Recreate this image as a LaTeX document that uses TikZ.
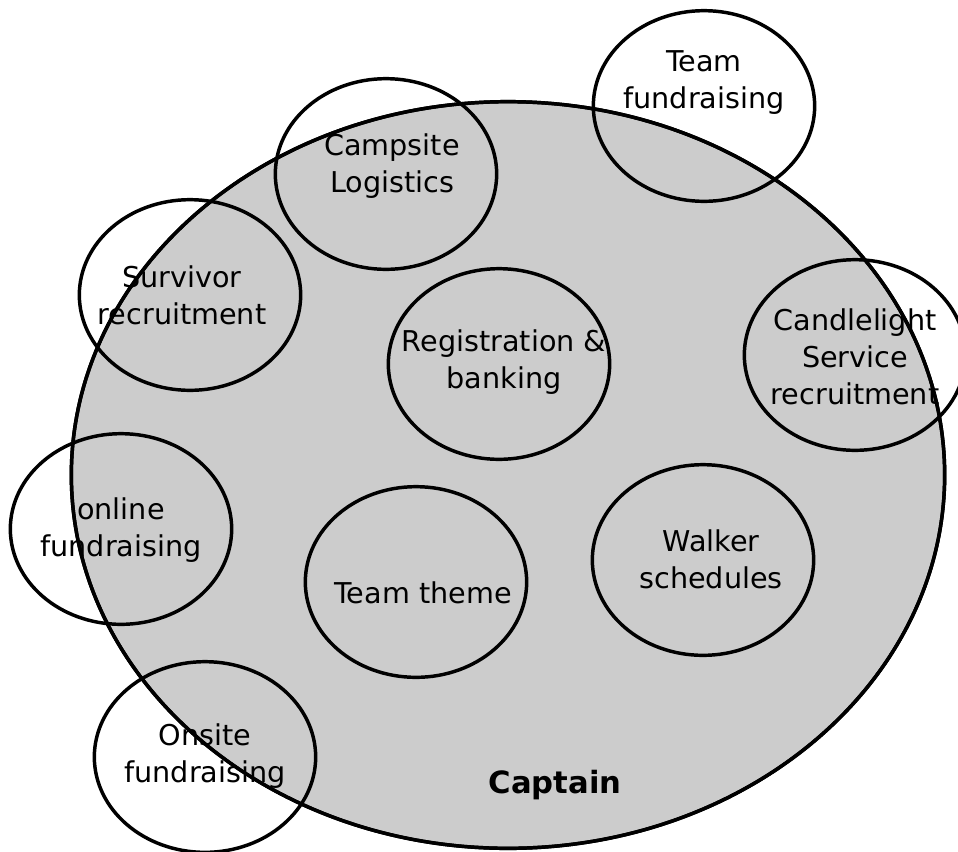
\documentclass[tikz,border=0pt]{standalone}
\usepackage{fontspec}
\setmainfont{DejaVu Sans}
\usepackage{tikz}
\usetikzlibrary{shapes.geometric}

\begin{document}
\begin{tikzpicture}[
    x=0.75pt, y=-0.75pt,
    area/.style={ellipse, draw=black, line width=2.6pt, minimum width=655pt, minimum height=560pt, inner sep=0pt},
    bubble/.style={ellipse, draw=black, line width=2.6pt, minimum width=166pt, minimum height=143pt, inner sep=0pt},
    caption/.style={align=center, inner sep=0pt, font=\fontsize{21.5}{27.75}\selectfont},
    boss/.style={inner sep=0pt, font=\bfseries\fontsize{23}{28}\selectfont}
]
    \useasboundingbox (0,0) rectangle (958,851);

    % Captain area
    \node[area, fill=black!20] (captain) at (508,475) {};

    % Tasks
    \node[bubble] (teamfund) at (704,106) {};
    \node[bubble] (campsite) at (386,174) {};
    \node[bubble] (survivor) at (190,295) {};
    \node[bubble] (registration) at (499,364) {};
    \node[bubble] (candlelight) at (855,355) {};
    \node[bubble] (online) at (121,529) {};
    \node[bubble] (theme) at (416,582) {};
    \node[bubble] (walker) at (703,560) {};
    \node[bubble] (onsite) at (205,757) {};

    % Labels
    \node[caption] (teamfund-txt) at (704,83) {Team\\fundraising};
    \node[caption] (campsite-txt) at (392,166) {Campsite\\Logistics};
    \node[caption] (survivor-txt) at (182,295) {Survivor\\recruitment};
    \node[caption] (registration-txt) at (504,362) {Registration \&\\banking};
    \node[caption] (candlelight-txt) at (855,357) {Candlelight\\Service\\recruitment};
    \node[caption] (online-txt) at (121,530) {online\\fundraising};
    \node[caption] (theme-txt) at (423,593) {Team theme};
    \node[caption] (walker-txt) at (711,559) {Walker\\schedules};
    \node[caption] (onsite-txt) at (205,756) {Onsite\\fundraising};
    \node[boss] (captain-txt) at (555,785) {Captain};

    % Captain rim on top
    \node[area] (captain-rim) at (captain) {};
\end{tikzpicture}
\end{document}
